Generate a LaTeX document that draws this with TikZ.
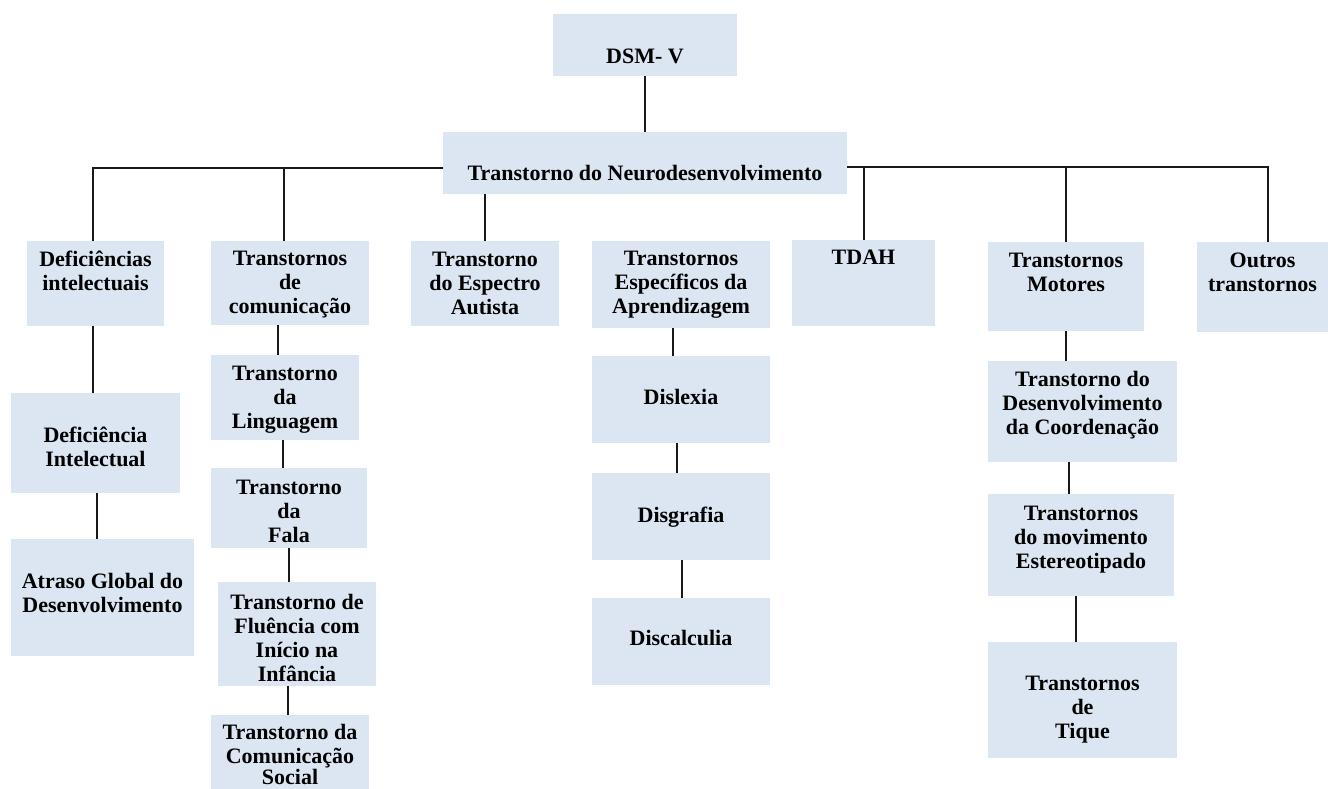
\documentclass[tikz,border=0pt]{standalone}
\usepackage{fontspec}
\setmainfont{Liberation Serif}
\usepackage{tikz}

\definecolor{cellblue}{HTML}{DCE6F2}
\tikzset{
  cellbox/.style={fill=cellblue, inner sep=0pt},
  celltext/.style={anchor=north, align=center, inner sep=0pt,
    font=\fontsize{22}{24}\selectfont\bfseries},
  link/.style={line width=2.2pt, black!90}
}
% name, left, top, right, bottom, top pad, text
\newcommand{\dsmcell}[7]{%
  \node[cellbox, minimum width={#4-#2}, minimum height={#5-#3}] (#1) at ({(#2+#4)/2},{(#3+#5)/2}) {};
  \node[celltext] (#1-txt) at ([yshift=-#6]#1.north) {#7};
}

\begin{document}
\begin{tikzpicture}[x=1pt, y=-1pt]
  \fill[white] (0,0) rectangle (1328,789);
  \useasboundingbox (0,0) rectangle (1328,789);

  % top
  \dsmcell{dsm}{553}{14}{737}{76}{35}{DSM- V}
  \dsmcell{neuro}{443}{132}{847}{194}{33}{Transtorno do Neurodesenvolvimento}

  % second row
  \dsmcell{defs}{27}{241}{164}{326}{10}{Deficiências\\intelectuais}
  \dsmcell{tcom}{211}{241}{369}{325}{10}{Transtornos\\de\\comunicação}
  \dsmcell{tea}{411}{241}{559}{326}{11}{Transtorno\\do Espectro\\Autista}
  \dsmcell{tesp}{592}{241}{770}{328}{10}{Transtornos\\Específicos da\\Aprendizagem}
  \dsmcell{tdah}{792}{240}{935}{326}{10}{TDAH}
  \dsmcell{tmot}{988}{242}{1144}{331}{11}{Transtornos\\Motores}
  \dsmcell{outros}{1197}{242}{1328}{332}{11}{Outros\\transtornos}

  % columns
  \dsmcell{dint}{11}{393}{180}{493}{34}{Deficiência\\Intelectual}
  \dsmcell{atraso}{11}{539}{194}{656}{34}{Atraso Global do\\Desenvolvimento}

  \dsmcell{ling}{211}{355}{359}{440}{11}{Transtorno\\da\\Linguagem}
  \dsmcell{fala}{211}{468}{367}{548}{12}{Transtorno\\da\\Fala}
  \dsmcell{flu}{218}{582}{376}{686}{12}{Transtorno de\\Fluência com\\Início na\\Infância}
  \dsmcell{social}{211}{715}{369}{789}{9}{Transtorno da\\Comunicação\\[-3pt]Social}

  \dsmcell{dis1}{592}{356}{770}{443}{33}{Dislexia}
  \dsmcell{dis2}{592}{473}{770}{560}{34}{Disgrafia}
  \dsmcell{dis3}{592}{598}{770}{685}{32}{Discalculia}

  \dsmcell{coord}{988}{361}{1177}{462}{10}{Transtorno do\\Desenvolvimento\\da Coordenação}
  \dsmcell{este}{988}{494}{1174}{596}{12}{Transtornos\\do movimento\\Estereotipado}
  \dsmcell{tique}{988}{642}{1177}{758}{34}{Transtornos\\de\\Tique}

  % connectors
  \draw[link] (dsm.south) -- (neuro.north);
  \draw[link] ([yshift=-5]neuro.west) -| (93,0 |- defs.north);
  \draw[link] (284,168) -- (284,0 |- tcom.north);
  \draw[link] (neuro.south -| tea.north) -- (tea.north);
  \draw[link] ([yshift=-4]neuro.east) -| (1268,0 |- outros.north);
  \draw[link] (864,0 |- 0,167) -- (864,0 |- tdah.north);
  \draw[link] (tmot.north |- 0,167) -- (tmot.north);

  \draw[link] (93,0 |- defs.south) -- (93,0 |- dint.north);
  \draw[link] (97,0 |- dint.south) -- (97,0 |- atraso.north);

  \draw[link] (278,0 |- tcom.south) -- (278,0 |- ling.north);
  \draw[link] (283,0 |- ling.south) -- (283,0 |- fala.north);
  \draw[link] (289,0 |- fala.south) -- (289,0 |- flu.north);
  \draw[link] (288,0 |- flu.south) -- (288,0 |- social.north);

  \draw[link] (673,0 |- tesp.south) -- (673,0 |- dis1.north);
  \draw[link] (677,0 |- dis1.south) -- (677,0 |- dis2.north);
  \draw[link] (682,0 |- dis2.south) -- (682,0 |- dis3.north);

  \draw[link] (1066,0 |- tmot.south) -- (1066,0 |- coord.north);
  \draw[link] (1069,0 |- coord.south) -- (1069,0 |- este.north);
  \draw[link] (1076,0 |- este.south) -- (1076,0 |- tique.north);
\end{tikzpicture}
\end{document}
